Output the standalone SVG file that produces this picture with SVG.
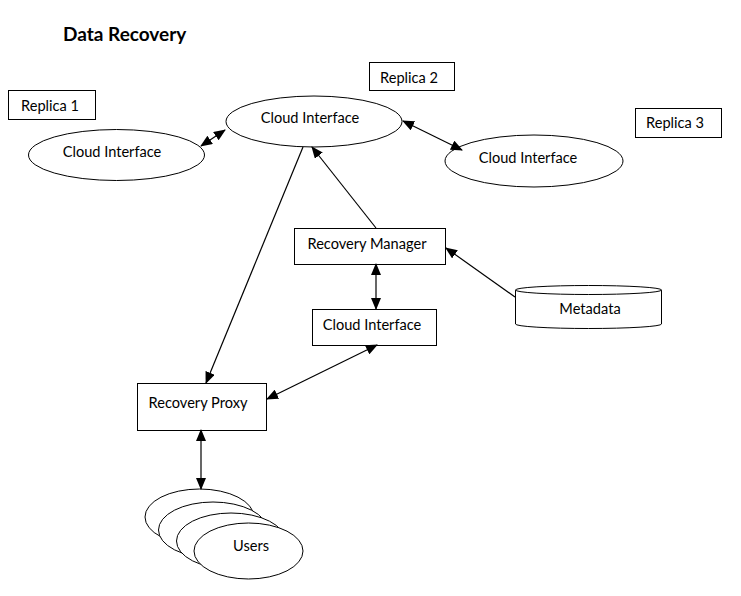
<svg xmlns="http://www.w3.org/2000/svg" width="741" height="596" viewBox="0 0 741 596">
<style>
.s{fill:#fff;stroke:#000;stroke-width:1}
.t{font-family:Lato,"Open Sans","Liberation Sans",sans-serif;font-size:14.6px;fill:#000;text-anchor:middle}
.c{fill:none;stroke:#000;stroke-width:1.2}
</style>
<defs>
<marker id="ah" markerUnits="userSpaceOnUse" markerWidth="12" markerHeight="10" refX="11" refY="5" orient="auto-start-reverse" viewBox="0 0 12 10">
<path d="M0,0 L12,5 L0,10 Z" fill="#000"/>
</marker>
</defs>
<rect width="741" height="596" fill="#fff"/>
<text x="63" y="41" style="font-family:Lato,'Open Sans','Liberation Sans',sans-serif;font-size:19px;font-weight:bold">Data Recovery</text>

<g id="replica1"><rect class="s" x="8.5" y="90.5" width="87" height="29"/><text class="t" x="50" y="111">Replica 1</text></g>
<g id="replica2"><rect class="s" x="369.5" y="62.5" width="85" height="28"/><text class="t" x="409" y="83">Replica 2</text></g>
<g id="replica3"><rect class="s" x="635.5" y="108.5" width="86" height="29"/><text class="t" x="675" y="128">Replica 3</text></g>

<g id="ci-left"><ellipse class="s" cx="116.5" cy="155" rx="88" ry="25.5"/><text class="t" x="112" y="157">Cloud Interface</text></g>
<g id="ci-top"><ellipse class="s" cx="314" cy="121.5" rx="88" ry="25.5"/><text class="t" x="310" y="123">Cloud Interface</text></g>
<g id="ci-right"><ellipse class="s" cx="534" cy="161" rx="89" ry="26"/><text class="t" x="528" y="163">Cloud Interface</text></g>

<g id="recovery-manager"><rect class="s" x="294.5" y="228.5" width="151" height="36"/><text class="t" x="367" y="249">Recovery Manager</text></g>
<g id="ci-box"><rect class="s" x="312.5" y="309.5" width="124" height="36"/><text class="t" x="372" y="330">Cloud Interface</text></g>
<g id="metadata">
<path class="s" d="M515.5,290 L515.5,324 A73,4.5 0 0 0 661.5,324 L661.5,290"/>
<ellipse class="s" cx="588.5" cy="290" rx="73" ry="4.5"/>
<text class="t" x="590" y="314">Metadata</text>
</g>
<g id="recovery-proxy"><rect class="s" x="137.5" y="383.5" width="129" height="47"/><text class="t" x="198" y="408">Recovery Proxy</text></g>
<g id="users">
<ellipse class="s" cx="199.5" cy="517" rx="54.5" ry="28"/>
<ellipse class="s" cx="213" cy="530" rx="54.5" ry="28"/>
<ellipse class="s" cx="231" cy="541" rx="54.5" ry="28"/>
<ellipse class="s" cx="248.5" cy="551" rx="54.5" ry="28"/>
<text class="t" x="251" y="551">Users</text>
</g>

<g id="connectors">
<line class="c" x1="201" y1="146" x2="225" y2="130" marker-start="url(#ah)" marker-end="url(#ah)"/>
<line class="c" x1="403" y1="121" x2="462" y2="150" marker-start="url(#ah)" marker-end="url(#ah)"/>
<line class="c" x1="303" y1="147" x2="206" y2="383" marker-end="url(#ah)"/>
<line class="c" x1="376" y1="228" x2="312" y2="147" marker-end="url(#ah)"/>
<line class="c" x1="376" y1="264" x2="376" y2="309" marker-start="url(#ah)" marker-end="url(#ah)"/>
<line class="c" x1="515" y1="297" x2="446" y2="248" marker-end="url(#ah)"/>
<line class="c" x1="267" y1="399" x2="377" y2="345" marker-start="url(#ah)" marker-end="url(#ah)"/>
<line class="c" x1="201" y1="430" x2="201" y2="489" marker-start="url(#ah)" marker-end="url(#ah)"/>
</g>
</svg>
